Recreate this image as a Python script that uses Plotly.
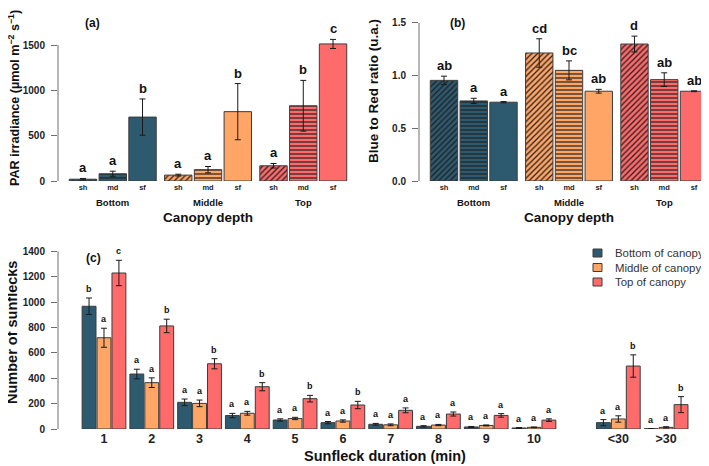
import plotly.graph_objects as go

# the page body keeps its default 8px margin, so the figure is drawn 8px in
# from the window corner; positions below are given in window pixels
OFF = 8
W, H = 709 - OFF, 466 - OFF
FONT = "Liberation Sans, Arial, sans-serif"

depths = ["Bottom", "Middle", "Top"]
positions = ["sh", "md", "sf"]
depth_colors = ["#2E5A70", "#FFA566", "#FF6B6B"]
pattern_shapes = ["/", "-", ""]

# (a) PAR irradiance per depth, order sh, md, sf
par_bottom = [20, 80, 705]
par_middle = [65, 125, 765]
par_top = [168, 830, 1512]
par_bottom_se = [8, 28, 200]
par_middle_se = [10, 35, 310]
par_top_se = [25, 280, 50]
par_bottom_lt = ["a", "a", "b"]
par_middle_lt = ["a", "a", "b"]
par_top_lt = ["a", "b", "c"]

# (b) blue to red ratio
br_bottom = [0.955, 0.76, 0.748]
br_middle = [1.215, 1.05, 0.852]
br_top = [1.30, 0.962, 0.852]
br_bottom_se = [0.04, 0.025, 0.006]
br_middle_se = [0.135, 0.09, 0.018]
br_top_se = [0.075, 0.065, 0.004]
br_bottom_lt = ["ab", "a", "a"]
br_middle_lt = ["cd", "bc", "ab"]
br_top_lt = ["d", "ab", "ab"]

# (c) number of sunflecks by duration
durations = ["1", "2", "3", "4", "5", "6", "7", "8", "9", "10", "<30", ">30"]
sun_bottom = [967, 433, 210, 106, 71, 50, 37, 21, 16, 8, 50, 2]
sun_middle = [719, 365, 202, 124, 83, 63, 33, 31, 28, 13, 79, 13]
sun_top = [1229, 812, 514, 333, 239, 189, 147, 118, 107, 70, 496, 192]
sun_bottom_se = [65, 38, 26, 17, 9, 9, 7, 5, 4, 3, 24, 1]
sun_middle_se = [75, 38, 26, 15, 9, 9, 7, 5, 4, 3, 25, 5]
sun_top_se = [100, 53, 40, 32, 26, 29, 19, 16, 14, 10, 88, 63]
sun_bottom_lt = ["b", "a", "a", "a", "a", "a", "a", "a", "a", "a", "a", "a"]
sun_middle_lt = ["a"] * 12
sun_top_lt = ["c", "b", "b", "b", "b", "b", "a", "a", "a", "a", "b", "b"]
sun_names = ["Bottom of canopy", "Middle of canopy", "Top of canopy"]


def px_x(p):
    return (p - OFF) / W


def px_y(p):
    return 1 - (p - OFF) / H


def label(x, y, text, size, **kw):
    d = dict(x=px_x(x), y=px_y(y), xref="paper", yref="paper", text=text, showarrow=False,
             xanchor="center", yanchor="middle", font=dict(size=size, color="#111", weight="bold"))
    d.update(kw)
    return d


fig = go.Figure()
annots = []
shapes = []

GROUP_STEP = 3.2
EDGE = "#3C3C3C"
ERR = dict(type="data", color="#1A1A1A", thickness=1, width=3)

# panels (a) and (b)
panel_ab = [
    ("x", "y", [par_bottom, par_middle, par_top], [par_bottom_se, par_middle_se, par_top_se],
     [par_bottom_lt, par_middle_lt, par_top_lt], 13),
    ("x2", "y2", [br_bottom, br_middle, br_top], [br_bottom_se, br_middle_se, br_top_se],
     [br_bottom_lt, br_middle_lt, br_top_lt], 13),
]
for xa, ya, means, ses, letters, lsize in panel_ab:
    for g, depth in enumerate(depths):
        xs = [g * GROUP_STEP + i for i in range(3)]
        fig.add_trace(go.Bar(
            x=xs, y=means[g], xaxis=xa, yaxis=ya, width=0.92,
            marker=dict(
                color=depth_colors[g],
                line=dict(color=EDGE, width=1),
                pattern=dict(shape=pattern_shapes, fgcolor="#1E1E1E", bgcolor=depth_colors[g],
                             size=4, solidity=0.3, fillmode="replace"),
            ),
            error_y=dict(array=ses[g], **ERR),
            showlegend=False,
        ))
        for x, m, s, t in zip(xs, means[g], ses[g], letters[g]):
            annots.append(dict(x=x, y=m + s, xref=xa, yref=ya, text=t, showarrow=False,
                               xanchor="center", yanchor="bottom", yshift=1,
                               font=dict(size=lsize, color="#111", weight="bold")))
        annots.append(dict(x=g * GROUP_STEP + 1, y=px_y(203), xref=xa, yref="paper", text=depth,
                           showarrow=False, xanchor="center", yanchor="middle",
                           font=dict(size=9.5, color="#111", weight="bold")))
    annots.append(dict(x=GROUP_STEP + 1, y=px_y(217), xref=xa, yref="paper", text="Canopy depth",
                       showarrow=False, xanchor="center", yanchor="middle",
                       font=dict(size=13.5, color="#111", weight="bold")))

# panel (c)
centers = [1 + GROUP_STEP * k for k in range(10)]
centers += [centers[-1] + 5.65, centers[-1] + 5.65 + GROUP_STEP]
sun_vals = [sun_bottom, sun_middle, sun_top]
sun_ses = [sun_bottom_se, sun_middle_se, sun_top_se]
sun_lts = [sun_bottom_lt, sun_middle_lt, sun_top_lt]
for i in range(3):
    xs = [c + i - 1 for c in centers]
    fig.add_trace(go.Bar(
        x=xs, y=sun_vals[i], xaxis="x3", yaxis="y3", width=0.93, name=sun_names[i],
        showlegend=False,
        marker=dict(color=depth_colors[i], line=dict(color=EDGE, width=1)),
        error_y=dict(array=sun_ses[i], **ERR),
    ))
    for x, m, s, t in zip(xs, sun_vals[i], sun_ses[i], sun_lts[i]):
        annots.append(dict(x=x, y=m + s, xref="x3", yref="y3", text=t, showarrow=False,
                           xanchor="center", yanchor="bottom", yshift=2,
                           font=dict(size=9, color="#111", weight="bold")))
    # legend key, drawn by hand so it does not push the margins
    ky = 253 + 14.5 * i
    shapes.append(dict(type="rect", xref="paper", yref="paper",
                       x0=px_x(593), x1=px_x(602), y0=px_y(ky + 4), y1=px_y(ky - 4),
                       fillcolor=depth_colors[i], line=dict(color=EDGE, width=1)))
    annots.append(dict(x=px_x(613), y=px_y(ky), xref="paper", yref="paper", text=sun_names[i],
                       showarrow=False, xanchor="left", yanchor="middle",
                       font=dict(size=11.4, color="#333")))

# text labels
annots += [
    label(92, 23, "(a)", 12),
    label(457, 23, "(b)", 12),
    label(93, 258, "(c)", 12),
    label(14, 98, "PAR irradiance (µmol m<sup>−2</sup> s<sup>−1</sup>)", 12.6, textangle=-90),
    label(373, 91, "Blue to Red ratio (u.a.)", 13.5, textangle=-90),
    label(12, 333, "Number of sunflecks", 14.5, textangle=-90),
    label(385, 456, "Sunfleck duration (min)", 14.5),
]

# R-style y axis lines (from first to last tick)
for ya, xa, top in [("y", "x", 1500), ("y2", "x2", 1.5), ("y3", "x3", 1400)]:
    shapes.append(dict(type="line", xref=f"{xa} domain", yref=ya, x0=0, x1=0, y0=0, y1=top,
                       line=dict(color="#6E6E6E", width=1)))

yax = dict(showgrid=False, zeroline=False, showline=False, ticks="outside", ticklen=6,
           tickcolor="#6E6E6E", tickfont=dict(size=10, color="#222", weight="bold"),
           ticklabelstandoff=4, automargin=False)
xab = dict(showgrid=False, zeroline=False, showline=False, ticks="", automargin=False,
           tickvals=[g * GROUP_STEP + i for g in range(3) for i in range(3)],
           ticktext=positions * 3, tickfont=dict(size=7.5, color="#222", weight="bold"))

fig.update_layout(
    width=W, height=H,
    margin=dict(l=0, r=0, t=0, b=0),
    paper_bgcolor="white", plot_bgcolor="white",
    font=dict(family=FONT, color="#222"),
    barmode="overlay",
    showlegend=False,
    xaxis=dict(domain=[px_x(58), px_x(350)], range=[-0.84, 8.97], anchor="y", **xab),
    yaxis=dict(domain=[px_y(181), px_y(20)], range=[0, 1776], anchor="x",
               tickvals=[0, 500, 1000, 1500], **yax),
    xaxis2=dict(domain=[px_x(419), 1], range=[-0.84, 8.904], anchor="y2", **xab),
    yaxis2=dict(domain=[px_y(181), px_y(8)], range=[0, 1.642], anchor="x2",
                tickvals=[0, 0.5, 1.0, 1.5], tickformat=".1f", **yax),
    xaxis3=dict(domain=[px_x(58), px_x(700)], range=[-2.08, 40.92], anchor="y3",
                showgrid=False, zeroline=False, showline=False, ticks="", automargin=False,
                tickvals=centers, ticktext=[d.replace("<", "&lt;").replace(">", "&gt;") for d in durations],
                tickfont=dict(size=12.5, color="#222", weight="bold")),
    yaxis3=dict(domain=[px_y(429), px_y(240)], range=[0, 1489], anchor="x3",
                tickvals=list(range(0, 1401, 200)), **yax),
    annotations=annots,
    shapes=shapes,
)

fig.write_html("out.html")
